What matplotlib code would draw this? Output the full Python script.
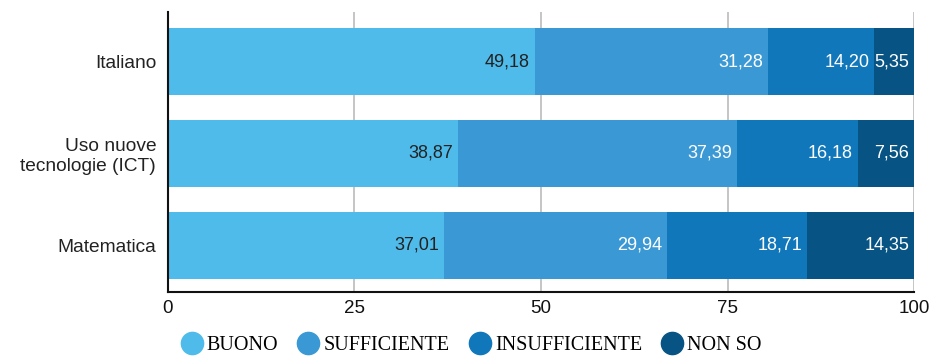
import matplotlib.pyplot as plt
from matplotlib.lines import Line2D

# categories (top to bottom) and the share of each answer, in percent
categories = ["Italiano", "Uso nuove\ntecnologie (ICT)", "Matematica"]
series_names = ["BUONO", "SUFFICIENTE", "INSUFFICIENTE", "NON SO"]
buono = [49.18, 38.87, 37.01]
sufficiente = [31.28, 37.39, 29.94]
insufficiente = [14.20, 16.18, 18.71]
non_so = [5.35, 7.56, 14.35]
x_ticks = [0, 25, 50, 75, 100]

colors = ["#4fbbea", "#3a98d4", "#1077bb", "#075383"]
text_colors = ["#222222", "white", "white", "white"]

fig = plt.figure(figsize=(9.33, 3.57), dpi=100)
ax = fig.add_axes([0.18, 0.182, 0.7997, 0.784])

y = list(range(len(categories)))
left = [0.0] * len(categories)
for values, color, tcolor in zip([buono, sufficiente, insufficiente, non_so], colors, text_colors):
    ax.barh(y, values, left=left, height=0.73, color=color, zorder=2)
    for i, v in enumerate(values):
        end = left[i] + v
        ax.annotate(f"{v:.2f}".replace(".", ","), (end, i), xytext=(-3.5, 0),
                    textcoords="offset points", ha="right", va="center",
                    color=tcolor, fontsize=13, family="Liberation Sans", zorder=3)
        left[i] = end

ax.set_ylim(2.51, -0.54)
ax.set_xlim(0, 100)
ax.set_yticks(y)
ax.set_yticklabels(categories, fontsize=13.8, family="Liberation Sans", color="#222222",
                   linespacing=1.2)
ax.set_xticks(x_ticks)
ax.set_xticklabels([str(t) for t in x_ticks], fontsize=13.5, family="Liberation Sans",
                   color="#111111")
ax.tick_params(axis="x", length=0, pad=6)
ax.tick_params(axis="y", length=0, pad=8.5)

ax.grid(axis="x", color="#bbbbbb", linewidth=1.2, zorder=0)
for s in ["top", "right"]:
    ax.spines[s].set_visible(False)
for s in ["left", "bottom"]:
    ax.spines[s].set_color("#111111")
    ax.spines[s].set_linewidth(1.5)

handles = [Line2D([], [], marker="o", linestyle="none", markersize=16,
                  markerfacecolor=c, markeredgecolor=c) for c in colors]
fig.legend(handles, series_names, loc="center", bbox_to_anchor=(0.505, 0.032),
           ncol=4, frameon=False, handlelength=1.1, handletextpad=0.2,
           columnspacing=0.95, borderpad=0, borderaxespad=0,
           prop={"family": "Liberation Serif", "size": 14.5})

fig.savefig("out.png", dpi=100)
